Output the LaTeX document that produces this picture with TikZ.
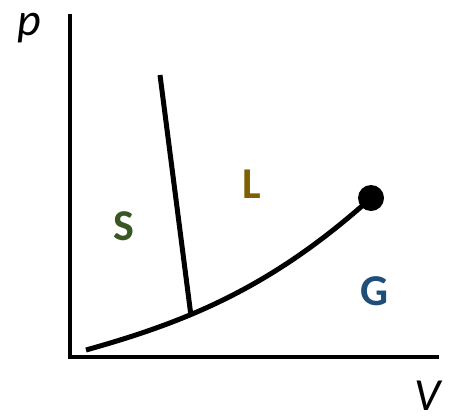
\documentclass[tikz,border=0pt]{standalone}
\usepackage{fontspec}
\setmainfont{Carlito}
\definecolor{sgreen}{RGB}{56,87,35}
\definecolor{lbrown}{RGB}{127,96,0}
\definecolor{gblue}{RGB}{31,78,121}
\tikzset{
  curve/.style={line width=5pt, black},
  phase/.style={font=\fontsize{44}{44}\selectfont\bfseries, inner sep=0pt},
  axislabel/.style={font=\fontsize{46}{46}\selectfont\itshape, inner sep=0pt}
}
\begin{document}
\begin{tikzpicture}[x=1pt,y=-1pt]
\useasboundingbox (0,0) rectangle (449,418);
\coordinate (ytop) at (70,16);
\coordinate (origin) at (70,357);
\coordinate (xend) at (437,357);
\coordinate (start) at (86,350);
\coordinate (triple) at (191,316);
\coordinate (meltTop) at (160,75);
\coordinate (crit) at (371,198);
\draw[line width=4.5pt, line cap=rect] (ytop) -- (origin) -- (xend);
\draw[curve] (start) .. controls (186,322) and (271,288) .. (crit);
\draw[curve] (meltTop) -- (triple);
\fill (crit) circle (13);
\node[axislabel] (p) at (29,28) {p};
\node[axislabel] (V) at (428,396) {V};
\node[phase, text=sgreen] (S) at (124,226) {S};
\node[phase, text=lbrown] (L) at (252,184) {L};
\node[phase, text=gblue] (G) at (375,291) {G};
\end{tikzpicture}
\end{document}
